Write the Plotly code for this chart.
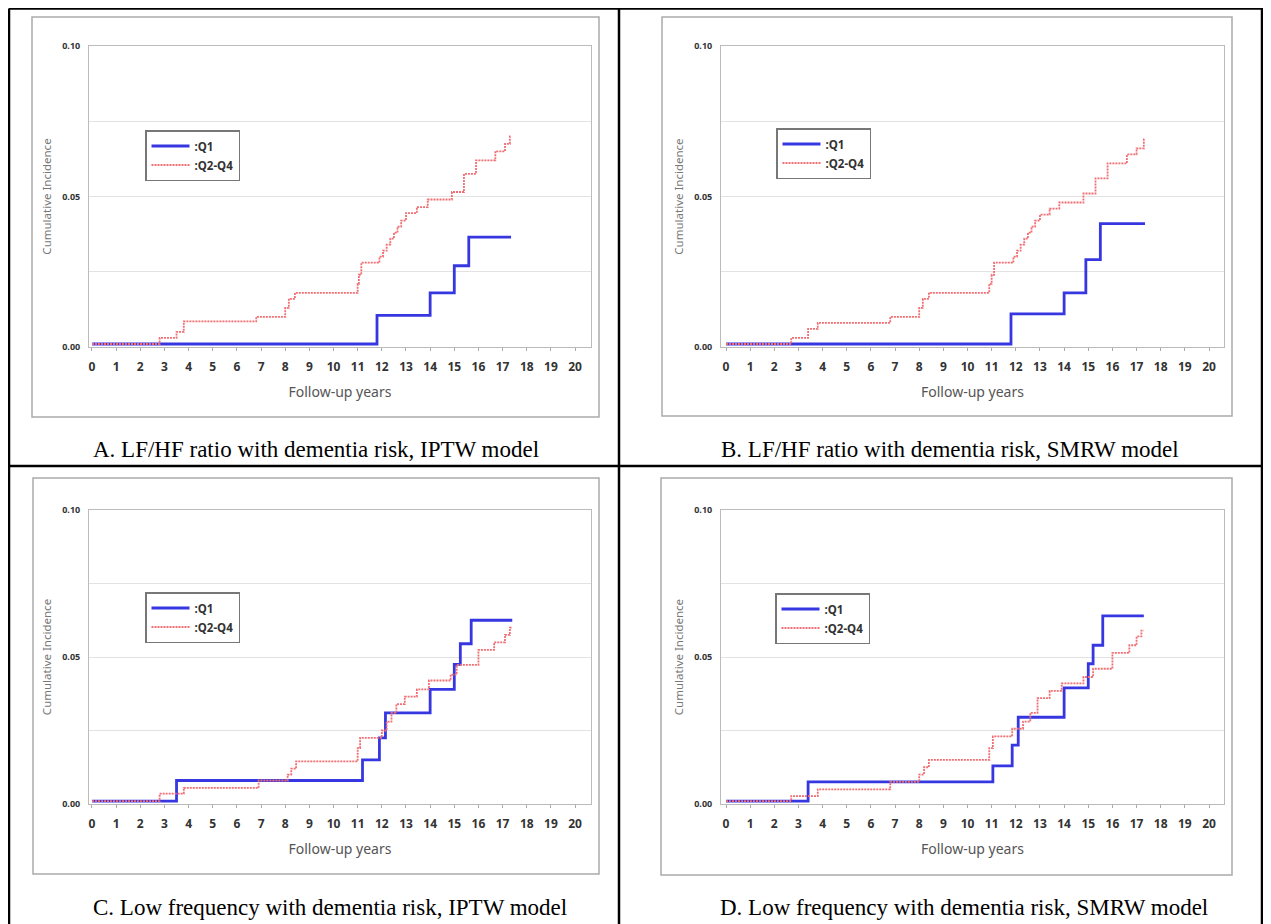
import plotly.graph_objects as go

# The page body has an 8px margin, so the figure is sized to fill the rest of the window
OFF = 8
W, H = 1271 - OFF, 924 - OFF

# ---------------- data ----------------
x_ticks = list(range(0, 21))
y_ticks = [0.0, 0.05, 0.10]
y_tick_text = ["0.00", "0.05", "0.10"]
y_minor = [0.025, 0.075]

series_names = [":Q1", ":Q2-Q4"]
captions = [
    "A. LF/HF ratio with dementia risk, IPTW model",
    "B. LF/HF ratio with dementia risk, SMRW model",
    "C. Low frequency with dementia risk, IPTW model",
    "D. Low frequency with dementia risk, SMRW model",
]

A_q1_t = [0, 11.8, 14.0, 15.0, 15.6, 17.35]
A_q1_v = [0.001, 0.0105, 0.018, 0.027, 0.0365, 0.0365]
A_q2_t = [0, 2.8, 3.5, 3.8, 6.8, 8.0, 8.15, 8.4, 11.0, 11.05, 11.15, 11.9, 12.05, 12.2,
          12.35, 12.5, 12.65, 12.8, 13.0, 13.45, 13.9, 14.9, 15.4, 15.9, 16.7, 17.1, 17.3, 17.35]
A_q2_v = [0.001, 0.003, 0.005, 0.0085, 0.010, 0.013, 0.016, 0.018, 0.021, 0.024, 0.028, 0.030,
          0.032, 0.034, 0.036, 0.038, 0.040, 0.042, 0.0445, 0.0465, 0.049, 0.0515, 0.0575,
          0.062, 0.065, 0.0675, 0.070, 0.070]

B_q1_t = [0, 11.8, 14.0, 14.9, 15.5, 17.35]
B_q1_v = [0.001, 0.011, 0.018, 0.029, 0.041, 0.041]
B_q2_t = [0, 2.7, 3.4, 3.8, 6.8, 8.0, 8.15, 8.4, 10.9, 11.0, 11.1, 11.9, 12.05, 12.2, 12.35,
          12.5, 12.65, 12.8, 13.0, 13.4, 13.8, 14.8, 15.3, 15.8, 16.6, 17.0, 17.3, 17.35]
B_q2_v = [0.001, 0.003, 0.006, 0.008, 0.010, 0.013, 0.016, 0.018, 0.021, 0.024, 0.028, 0.030,
          0.032, 0.034, 0.036, 0.038, 0.040, 0.042, 0.044, 0.046, 0.048, 0.051, 0.056, 0.061,
          0.064, 0.066, 0.069, 0.069]

C_q1_t = [0, 3.5, 11.2, 11.9, 12.15, 14.0, 15.0, 15.25, 15.7, 17.4]
C_q1_v = [0.001, 0.008, 0.015, 0.0225, 0.031, 0.039, 0.0475, 0.0545, 0.0625, 0.0625]
C_q2_t = [0, 2.8, 3.8, 6.9, 8.1, 8.25, 8.45, 11.0, 11.1, 12.0, 12.2, 12.4, 12.6, 12.95,
          13.45, 13.95, 14.85, 15.1, 16.0, 16.65, 17.1, 17.3, 17.4]
C_q2_v = [0.001, 0.0035, 0.0055, 0.008, 0.010, 0.012, 0.0145, 0.019, 0.0225, 0.025, 0.028,
          0.031, 0.034, 0.0365, 0.039, 0.042, 0.044, 0.0473, 0.0524, 0.055, 0.0575, 0.060, 0.060]

D_q1_t = [0, 3.4, 11.05, 11.85, 12.1, 14.0, 15.0, 15.2, 15.6, 17.3]
D_q1_v = [0.001, 0.0075, 0.013, 0.020, 0.0295, 0.0395, 0.0477, 0.054, 0.064, 0.064]
D_q2_t = [0, 2.7, 3.8, 6.8, 8.0, 8.2, 8.4, 10.9, 11.05, 11.85, 12.3, 12.6, 12.9, 13.4, 13.9,
          14.8, 15.2, 16.0, 16.7, 17.0, 17.2, 17.3]
D_q2_v = [0.001, 0.0027, 0.005, 0.0075, 0.010, 0.0125, 0.015, 0.019, 0.023, 0.0256, 0.028,
          0.031, 0.036, 0.0385, 0.041, 0.0432, 0.046, 0.0514, 0.054, 0.057, 0.059, 0.059]

panels = [
    (A_q1_t, A_q1_v, A_q2_t, A_q2_v),
    (B_q1_t, B_q1_v, B_q2_t, B_q2_v),
    (C_q1_t, C_q1_v, C_q2_t, C_q2_v),
    (D_q1_t, D_q1_v, D_q2_t, D_q2_v),
]

# ---------------- layout helpers (page pixel -> paper fraction) ----------------
def fx(px):
    return (px - OFF) / W


def fy(py):
    return 1 - (py - OFF) / H


# plot areas in page pixels: (left, right, top, bottom, x-range)
areas = [
    (89, 591, 46, 347, [-0.124, 20.66]),
    (721, 1224, 46, 347, [-0.207, 20.62]),
    (89, 591, 510, 804, [-0.124, 20.66]),
    (721, 1224, 510, 804, [-0.207, 20.62]),
]
grey_boxes = [(32, 599, 17, 417), (662, 1232, 17, 416), (33, 599, 478, 874), (661, 1232, 478, 875)]
legend_pos = [(145, 130), (776, 128), (145, 592), (775, 593)]
caption_pos = [(316, 450), (950, 449), (330, 907), (964, 907)]

BLUE = "rgb(55,55,225)"
RED = "rgb(240,110,115)"

fig = go.Figure()
layout = dict(
    width=W, height=H, margin=dict(l=0, r=0, t=0, b=0, autoexpand=False),
    paper_bgcolor="white", plot_bgcolor="white",
    font=dict(family="Noto Sans, DejaVu Sans, sans-serif", color="#333"),
    shapes=[], annotations=[],
)

for i, (q1t, q1v, q2t, q2v) in enumerate(panels):
    n = "" if i == 0 else str(i + 1)
    xa, ya = "x" + n, "y" + n
    lg = "legend" + n
    fig.add_trace(go.Scatter(x=q1t, y=q1v, mode="lines", line_shape="hv", name=series_names[0],
                             legendgroup="q1" + n,
                             line=dict(color=BLUE, width=2.8), xaxis=xa, yaxis=ya, legend=lg))
    fig.add_trace(go.Scatter(x=q2t, y=q2v, mode="lines", line_shape="hv", name=series_names[1],
                             legendgroup="q2" + n,
                             line=dict(color=RED, width=1.8, dash="2px,1px"), xaxis=xa, yaxis=ya, legend=lg))
    l, r, t, b, xr = areas[i]
    layout["xaxis" + n] = dict(
        domain=[fx(l), fx(r)], range=xr, anchor=ya, automargin=False,
        tickmode="array", tickvals=x_ticks, ticktext=["<b>%d</b>" % v for v in x_ticks],
        tickfont=dict(size=12, color="#333"), ticks="outside", ticklen=3, tickcolor="#aaa",
        ticklabelstandoff=6,
        showline=True, linecolor="#bbb", linewidth=1, mirror=True, showgrid=False, zeroline=False,
        title=dict(text="Follow-up years", font=dict(size=14, color="#555"), standoff=12),
    )
    layout["yaxis" + n] = dict(
        domain=[fy(b), fy(t)], range=[0, 0.1], anchor=xa, automargin=False,
        tickmode="array", tickvals=y_ticks, ticktext=["<b>%s</b>" % s for s in y_tick_text],
        tickfont=dict(size=9, color="#333"), ticks="", ticklabelstandoff=6,
        showline=True, linecolor="#bbb", linewidth=1, mirror=True,
        showgrid=True, gridcolor="#e2e2e2", gridwidth=1, zeroline=False,
        minor=dict(tickvals=y_minor, showgrid=True, gridcolor="#e2e2e2", ticks=""),
        title=dict(text="Cumulative Incidence", font=dict(size=11.5, color="#777"), standoff=8),
    )
    lx, ly = legend_pos[i]
    layout[lg] = dict(
        x=fx(lx), y=fy(ly), xanchor="left", yanchor="top",
        bgcolor="white", bordercolor="#777", borderwidth=1.5,
        font=dict(size=11.5, color="#333", weight="bold"), tracegroupgap=0, itemwidth=38,
    )
    gl, gr, gt, gb = grey_boxes[i]
    layout["shapes"].append(dict(type="rect", xref="paper", yref="paper",
                                 x0=fx(gl), x1=fx(gr), y0=fy(gb), y1=fy(gt),
                                 line=dict(color="#aaa", width=1.5)))
    cx, cy = caption_pos[i]
    layout["annotations"].append(dict(text=captions[i], xref="paper", yref="paper",
                                      x=fx(cx), y=fy(cy), showarrow=False,
                                      xanchor="center", yanchor="middle",
                                      font=dict(family="Liberation Serif, Times New Roman, serif",
                                                size=23, color="black")))

# table borders
for (x0, y0, x1, y1) in [(9, 8.5, 1263, 8.5), (9, 8.5, 9, 924), (1262, 8.5, 1262, 924),
                         (619, 8.5, 619, 924), (9, 466, 1263, 466)]:
    layout["shapes"].append(dict(type="line", xref="paper", yref="paper",
                                 x0=fx(x0), x1=fx(x1), y0=fy(y0), y1=fy(y1),
                                 line=dict(color="black", width=2.5)))

fig.update_layout(**layout)
fig.write_html("out.html")
